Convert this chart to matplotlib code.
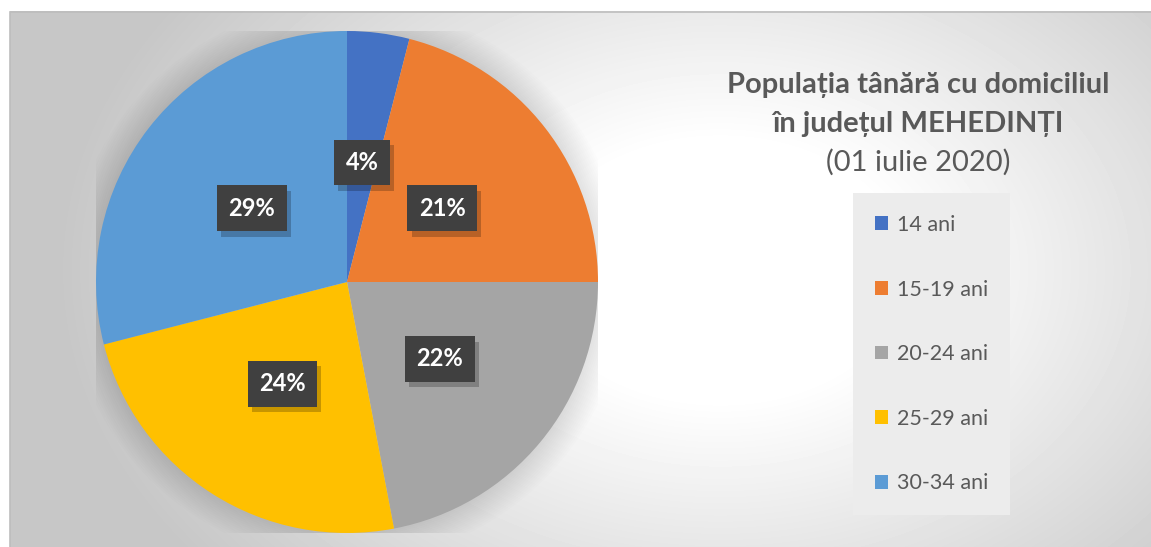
import numpy as np
import matplotlib
matplotlib.use("Agg")
import matplotlib.pyplot as plt
from matplotlib.patches import Rectangle, Circle
import matplotlib.patheffects as pe

categories = ["14 ani", "15-19 ani", "20-24 ani", "25-29 ani", "30-34 ani"]
values = [4, 21, 22, 24, 29]
colors = ["#4472C4", "#ED7D31", "#A5A5A5", "#FFC000", "#5B9BD5"]
title_lines = ["Populația tânără cu domiciliul", "în județul MEHEDINȚI", "(01 iulie 2020)"]

W, H = 1151, 547
plt.rcParams['font.family'] = ['Lato', 'DejaVu Sans']
fig = plt.figure(figsize=(W / 100, H / 100), dpi=100)
fig.patch.set_facecolor("white")

# background gradient (chart area)
x0, y0 = 10, 11  # pixel from left/top
bg = fig.add_axes([x0 / W, 0, 1 - x0 / W, 1 - y0 / H])
bg.set_axis_off()
xs = np.arange(x0, W)
ys = np.arange(y0, H)
X, Y = np.meshgrid(xs, ys)
d = np.sqrt(((X - 720) / 600) ** 2 + ((Y - 270) / 430) ** 2)
t = np.clip((d - 0.3) / 0.8, 0, 1) ** 1.0
img = 1 - 0.22 * t
bg.imshow(img, cmap="gray", vmin=0, vmax=1, aspect="auto",
          extent=[0, 1, 0, 1], interpolation="bilinear")
bg.set_xlim(0, 1)
bg.set_ylim(0, 1)
# border
fig.add_artist(Rectangle((x0 / W, -0.01), 1.0, 1 - y0 / H + 0.01 - 0.5 / H,
                         transform=fig.transFigure, fill=False,
                         ec="#bdbdbd", lw=1.2))

# pie axes
cx, cy, r = 347, 282, 251
ax = fig.add_axes([(cx - r) / W, (H - cy - r) / H, 2 * r / W, 2 * r / H])
ax.set_axis_off()
# soft shadow around pie
for k in range(14):
    ax.add_patch(Circle((0.0, 0.0), 1.0 + 0.008 * (k + 1), color="black",
                        alpha=0.006, lw=0, zorder=0))

wedges, texts, autotexts = ax.pie(
    values, colors=colors, startangle=90, counterclock=False,
    autopct=lambda p: f"{p:.0f}%", pctdistance=0.48, radius=1.0,
    wedgeprops=dict(linewidth=0, zorder=2),
    textprops=dict(color="white", fontsize=17, fontweight="bold"))
for at in autotexts:
    at.set_zorder(5)
    at.set_bbox(dict(boxstyle="square,pad=0.48", fc="#404040", ec="none", lw=0))
    at.get_bbox_patch().set_path_effects(
        [pe.SimplePatchShadow(offset=(3, -4), shadow_rgbFace="black", alpha=0.22),
         pe.Normal()])
ax.set_xlim(-1, 1)
ax.set_ylim(-1, 1)
ax.set_aspect("equal")

# title
tx = 918 / W
fig.text(tx, 1 - 85 / H, title_lines[0], ha="center", va="center",
         fontsize=21, fontweight="bold", color="#595959")
fig.text(tx, 1 - 124 / H, title_lines[1], ha="center", va="center",
         fontsize=21, fontweight="bold", color="#595959")
fig.text(tx, 1 - 162 / H, title_lines[2], ha="center", va="center",
         fontsize=21, color="#595959")

# legend
leg = fig.legend(wedges, categories, loc="upper left",
                 bbox_to_anchor=(853 / W, 1 - 193 / H),
                 frameon=True, fancybox=False, fontsize=15.5,
                 labelspacing=2.07, handlelength=0.62, handleheight=0.62,
                 handletextpad=0.4, borderpad=1.02, borderaxespad=0,
                 labelcolor="#595959")
leg.get_frame().set_facecolor("#ececec")
leg.get_frame().set_edgecolor("none")
leg.get_frame().set_alpha(1)

fig.savefig("out.png", dpi=100)
